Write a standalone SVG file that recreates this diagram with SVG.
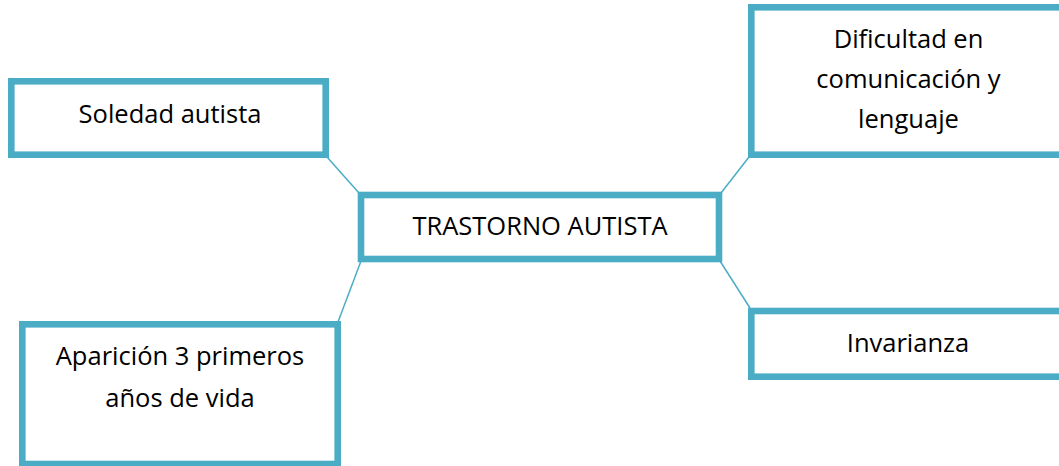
<svg xmlns="http://www.w3.org/2000/svg" width="1059" height="466" viewBox="0 0 1059 466">
  <style>
    .box { fill: #ffffff; stroke: #4BACC6; stroke-width: 6.6; }
    .conn { stroke: #4BACC6; stroke-width: 1.5; fill: none; }
    .lbl { font-family: "Open Sans", "Noto Sans", sans-serif; font-size: 25.5px; fill: #000000; text-anchor: middle; }
  </style>
  <rect width="1059" height="466" fill="#ffffff"/>
  <g id="connectors">
    <line class="conn" x1="327" y1="157" x2="359" y2="193"/>
    <line class="conn" x1="749" y1="157" x2="721" y2="193"/>
    <line class="conn" x1="361" y1="261" x2="338" y2="322"/>
    <line class="conn" x1="720" y1="261" x2="750" y2="308"/>
  </g>
  <g id="node-soledad">
    <rect class="box" x="11.3" y="81.3" width="314.4" height="73.4"/>
    <text class="lbl" x="170" y="122.7">Soledad autista</text>
  </g>
  <g id="node-dificultad">
    <rect class="box" x="751.3" y="7.3" width="316" height="147.4"/>
    <text class="lbl" x="908.5" y="48.3">Dificultad en</text>
    <text class="lbl" x="908.5" y="88.3">comunicación y</text>
    <text class="lbl" x="908.5" y="128.3">lenguaje</text>
  </g>
  <g id="node-central">
    <rect class="box" x="361" y="195" width="358" height="64"/>
    <text class="lbl" x="540" y="235">TRASTORNO AUTISTA</text>
  </g>
  <g id="node-aparicion">
    <rect class="box" x="22.3" y="324.3" width="315.4" height="139.7"/>
    <text class="lbl" x="180" y="365">Aparición 3 primeros</text>
    <text class="lbl" x="180" y="406.5">años de vida</text>
  </g>
  <g id="node-invarianza">
    <rect class="box" x="751.3" y="311" width="316" height="65.7"/>
    <text class="lbl" x="908" y="351.7">Invarianza</text>
  </g>
</svg>
